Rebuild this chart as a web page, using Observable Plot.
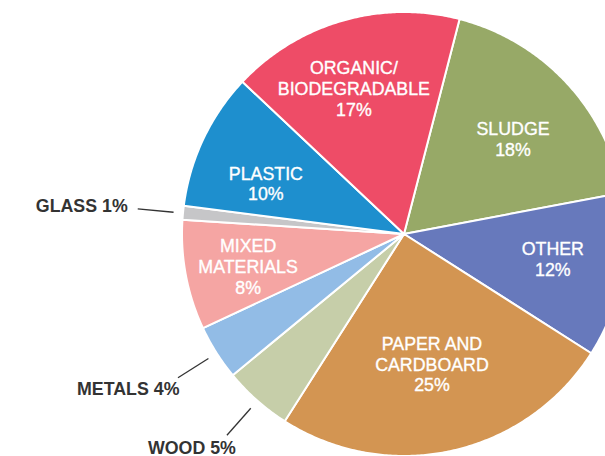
<!DOCTYPE html>
<html>
<head>
<meta charset="utf-8">
<script src="https://cdn.jsdelivr.net/npm/d3@7"></script>
<script src="https://cdn.jsdelivr.net/npm/@observablehq/plot@0.6"></script>
<style>
  html, body { margin: 0; padding: 0; background: #fff; }
  #chart svg { display: block; }
</style>
</head>
<body>
<div id="chart"></div>
<script>
// ---- data (clockwise from the top-right) ----
const categories = ["SLUDGE", "OTHER", "PAPER AND CARDBOARD", "WOOD", "METALS", "MIXED MATERIALS", "GLASS", "PLASTIC", "ORGANIC/ BIODEGRADABLE"];
const shares = [18, 12, 25, 5, 4, 8, 1, 10, 17];
const labelText = ["SLUDGE", "OTHER", "PAPER AND\nCARDBOARD", "WOOD", "METALS", "MIXED\nMATERIALS", "GLASS", "PLASTIC", "ORGANIC/\nBIODEGRADABLE"];
const outsideLabel = [false, false, false, true, true, false, true, false, false];
const colors = ["#97a967", "#6779bc", "#d39552", "#c6cea9", "#92bce6", "#f5a5a3", "#c6c6c8", "#1e8fce", "#ee4c67"];

// ---- layout ----
const W = 605, H = 456;
const cx = 404, cy = 234;       // pie centre in pixels
const R = 222;                  // pie radius
const startAngle = 14.5;        // degrees clockwise from 12 o'clock
const labelR = 150;
// small nudges (px) for inside labels, [dx, dy] screen space
const nudgeIn = {"SLUDGE": [-1, 7], "OTHER": [1, -4], "PAPER AND CARDBOARD": [-5, -17], "MIXED MATERIALS": [-9, 4], "PLASTIC": [-3, 13], "ORGANIC/ BIODEGRADABLE": [-9, -2]};
const nudgeOut = {"GLASS": [-10, -2.6], "METALS": [1.5, 12], "WOOD": [9, 13]};
const leaderIn = 232, leaderOut = 268;

const rad = d => d * Math.PI / 180;
const total = d3.sum(shares);
let acc = startAngle;
const slices = categories.map((c, i) => {
  const a0 = acc, a1 = acc + shares[i] / total * 360;
  acc = a1;
  return {category: c, value: shares[i], a0, a1, mid: (a0 + a1) / 2, text: labelText[i], outside: outsideLabel[i]};
});
const polar = (a, r) => ({X: r * Math.sin(rad(a)), Y: r * Math.cos(rad(a))});

// wedge outlines
const wedgePts = [];
for (const s of slices) {
  const n = Math.max(2, Math.ceil((s.a1 - s.a0) / 0.5));
  for (let k = 0; k <= n; k++) {
    const a = s.a0 + (s.a1 - s.a0) * k / n;
    wedgePts.push({category: s.category, ...polar(a, R)});
  }
}

const inside = slices.filter(s => !s.outside).map(s => {
  const p = polar(s.mid, labelR), nd = nudgeIn[s.category] || [0, 0];
  return {...s, X: p.X + nd[0], Y: p.Y - nd[1], label: s.text + "\n" + s.value + "%"};
});
const outside = slices.filter(s => s.outside).map(s => {
  const p1 = polar(s.mid, leaderIn), p2 = polar(s.mid, leaderOut), nd = nudgeOut[s.category] || [0, 0];
  return {...s, X1: p1.X, Y1: p1.Y, X2: p2.X, Y2: p2.Y, TX: p2.X + nd[0], TY: p2.Y - nd[1], label: s.text + " " + s.value + "%"};
});

const font = "'Liberation Sans', Arial, Helvetica, sans-serif";

const chart = Plot.plot({
  width: W,
  height: H,
  margin: 0,
  x: {axis: null, domain: [-cx, W - cx]},
  y: {axis: null, domain: [-(H - cy), cy]},
  color: {domain: categories, range: colors},
  style: {fontFamily: font, background: "#fff"},
  marks: [
    Plot.area(wedgePts, {
      x1: 0, y1: 0, x2: "X", y2: "Y", z: "category", fill: "category",
      stroke: "white", strokeWidth: 2, strokeLinejoin: "round", clip: true
    }),
    Plot.text(inside, {
      x: "X", y: "Y", text: "label", fill: "white", fontSize: 17.8, lineHeight: 1.16,
      stroke: "white", strokeWidth: 0.35, fontFamily: font
    }),
    Plot.link(outside, {
      x1: "X1", y1: "Y1", x2: "X2", y2: "Y2", stroke: "#333", strokeWidth: 1.3
    }),
    Plot.text(outside, {
      x: "TX", y: "TY", text: "label", fill: "#333", fontSize: 17.8, fontWeight: "bold",
      textAnchor: "end", fontFamily: font
    })
  ]
});
document.getElementById("chart").appendChild(chart);
</script>
</body>
</html>
